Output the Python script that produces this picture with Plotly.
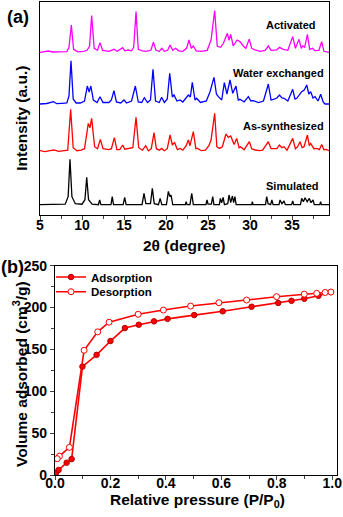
import plotly.graph_objects as go

# ---- (a) PXRD patterns: 2theta (deg) and intensity above each trace's own baseline (a.u.)
sim_tt = [5.0, 8.0, 8.35, 8.57, 8.8, 9.2, 10.0, 10.35, 10.56, 10.78, 11.2, 11.95, 12.1, 12.25,
          13.45, 13.6, 13.75, 14.9, 15.08, 15.25, 17.15, 17.38, 17.6, 18.15, 18.37, 18.6,
          19.1, 19.3, 19.5, 20.05, 20.28, 20.45, 20.6, 20.8, 22.3, 22.4, 22.5, 22.85, 23.06,
          23.25, 24.75, 24.88, 25.0, 25.4, 25.56, 25.7, 26.35, 26.47, 26.62, 26.8, 26.95,
          27.35, 27.5, 27.7, 27.9, 28.05, 28.2, 28.35, 30.2, 30.28, 30.36, 31.85, 31.98,
          32.15, 32.45, 32.6, 32.75, 33.45, 33.57, 33.8, 34.05, 34.2, 34.95, 35.08, 35.2,
          36.0, 36.15, 36.35, 36.55, 36.8, 37.06, 37.25, 37.5, 37.65, 38.3, 38.4, 38.5, 39.4]
sim_int = [0, 0.5, 8, 45.3, 8, 1, 0.5, 5, 27.3, 5, 0.5, 0, 4.7, 0,
           0, 8, 0, 0, 7.3, 0, 0, 11.3, 1, 1, 16.3, 1,
           0, 6.3, 0, 0, 13.3, 8, 9.7, 0, 0, 3, 0, 0, 11.3,
           0, 0, 4.7, 0.5, 0.5, 8, 0, 0, 6.3, 2, 7.3, 0,
           1, 9.7, 2, 8.7, 2, 8, 0, 0, 3, 0, 0, 8,
           1, 0, 4.7, 0, 0, 4.7, 1, 3.7, 0, 0, 3.7, 0,
           0, 6.3, 3, 7, 3, 6.3, 2, 4.7, 0, 0, 3, 0, 0]

as_tt = [5.0, 5.6, 6.2, 6.7, 7.2, 7.8, 8.3, 8.65, 8.95, 9.4, 9.9, 10.3, 10.75, 10.95, 11.15,
         11.5, 11.85, 12.18, 12.5, 13.2, 13.5, 13.85, 14.15, 14.5, 14.84, 15.1, 15.6, 16.05,
         16.43, 16.75, 17.2, 17.58, 17.9, 18.25, 18.57, 18.85, 19.2, 19.48, 19.8, 20.15,
         20.48, 20.75, 21.03, 21.35, 21.67, 22.0, 22.4, 22.66, 22.85, 23.25, 23.55, 23.77,
         24.2, 24.7, 25.1, 25.36, 25.79, 26.05, 26.35, 26.7, 27.14, 27.42, 27.7, 28.1,
         28.41, 28.7, 28.89, 29.3, 29.92, 30.2, 30.6, 31.1, 31.5, 32.18, 32.5, 32.86, 33.2,
         33.5, 33.8, 34.05, 34.4, 35.08, 35.4, 35.67, 35.95, 36.2, 36.43, 36.83, 37.05,
         37.22, 37.6, 37.94, 38.25, 38.53, 38.8, 39.05, 39.4]
as_int = [1, 0, 1, 1.7, 0.3, 0.7, 1.5, 42.3, 4, 1, 1.5, 3, 28.3, 24, 33.3,
          5, 3, 12.3, 3, 2, 3, 14, 2, 2, 6.7, 2.5, 3, 4,
          34.3, 4, 1.5, 6, 1, 3, 19, 3, 1.5, 3.3, 1, 3,
          16.7, 7, 9, 2, 3.3, 1.5, 6, 11.7, 6, 20, 3, 3.3,
          1, 1.5, 6, 11.7, 38.3, 5, 3.3, 5, 17.7, 14.3, 15.7, 7.3,
          13.3, 4, 5, 2, 10, 3, 1.7, 1, 1.5, 10, 3, 3.3, 3,
          6.7, 4, 5, 1.5, 13.3, 3, 5, 10, 4, 5, 16.7, 6,
          8.3, 3, 3.3, 2, 7.3, 2, 2.3, 1]

we_tt = [5.0, 5.8, 6.6, 7.0, 7.6, 8.2, 8.45, 8.69, 8.95, 9.3, 9.8, 10.3, 10.63, 10.85, 11.05,
         11.35, 11.8, 12.14, 12.5, 13.2, 13.5, 13.8, 14.1, 14.6, 15.0, 15.3, 15.9, 16.35,
         16.7, 17.1, 17.42, 17.8, 18.15, 18.45, 18.75, 19.2, 19.48, 19.8, 20.15, 20.44,
         20.75, 20.95, 21.3, 21.67, 22.0, 22.66, 22.9, 23.13, 23.45, 23.65, 24.1, 24.8,
         25.24, 25.71, 26.0, 26.23, 26.63, 26.94, 27.25, 27.62, 27.94, 28.33, 28.6, 28.8,
         29.3, 29.8, 30.1, 30.4, 31.0, 31.6, 32.18, 32.5, 32.78, 33.2, 33.5, 33.8, 34.05,
         34.5, 35.08, 35.35, 35.56, 35.9, 36.15, 36.45, 36.75, 37.0, 37.22, 37.5, 37.74,
         38.1, 38.41, 38.7, 38.93, 39.4]
we_int = [0, 0.5, 2.3, 0.3, 0.7, 1, 8, 43.3, 5, 1, 1, 3, 18, 12, 18,
          4, 1.5, 7.3, 1.5, 1.5, 4, 13.3, 2, 1, 4, 1, 3, 18,
          2, 1.5, 6.3, 1.5, 4, 34.7, 3, 1.5, 6.7, 1.5, 5, 30.7,
          7, 9, 3, 4, 2, 9, 7, 21.7, 4, 5.7, 1.5, 3,
          12.3, 26.7, 10, 7.3, 4, 21.3, 10, 24, 10.7, 18, 4, 4.7,
          2, 7.3, 3, 3.3, 1.5, 3, 20, 4, 4.7, 6, 9, 6, 5.7,
          3, 14.7, 5, 5.7, 10, 12.3, 14, 19, 10, 12.3, 6, 7.3,
          3, 9.7, 2, 0, 0]

act_tt = [5.0, 5.6, 6.0, 6.5, 7.2, 7.8, 8.2, 8.45, 8.73, 9.0, 9.5, 10.2, 10.6, 10.9, 11.15,
          11.45, 11.85, 12.14, 12.45, 13.2, 13.8, 14.2, 14.84, 15.1, 15.5, 15.9, 16.15, 16.43,
          16.7, 17.2, 17.6, 18.2, 18.5, 18.8, 19.2, 19.5, 19.8, 20.2, 20.48, 20.8, 21.15,
          21.5, 22.0, 22.45, 22.74, 23.0, 23.25, 23.6, 24.2, 24.9, 25.36, 25.79, 26.1, 26.5,
          26.83, 27.3, 27.5, 27.7, 28.0, 28.45, 28.8, 29.2, 29.5, 29.9, 30.2, 30.6, 31.2,
          31.8, 32.18, 32.5, 32.78, 33.2, 33.5, 33.97, 34.5, 35.08, 35.4, 35.83, 36.1, 36.27,
          36.5, 36.83, 37.1, 37.46, 37.7, 37.86, 38.2, 38.53, 38.8, 39.4]
act_int = [0, 0.7, 1.3, 0.3, 0.3, 0, 0.7, 5, 27.3, 3, 0.5, 1, 2, 6, 36.7,
           4, 2, 9.7, 2, 1, 3, 1, 4.7, 1.5, 2.3, 1.5, 5, 40.7,
           3, 1.5, 1, 2, 10, 2, 1, 4, 1, 2, 7.3, 2, 4,
           1.5, 1, 4, 12.3, 4, 6.3, 1.5, 1, 2, 12.3, 41.7, 6, 5,
           9, 19, 12, 18, 6.3, 12.3, 10.7, 6.3, 4, 13, 4, 2.3, 1,
           2, 6.3, 2, 2.3, 2.5, 5, 3, 2, 15.7, 4, 13, 4, 6.3,
           5, 18, 3, 4, 1.7, 1.7, 2, 10.7, 1, 0]

pattern_names = ["Simulated", "As-synthesized", "Water exchanged", "Activated"]
pattern_colors = ["black", "#FF0000", "#0000FF", "#FF00FF"]
pattern_offsets = [10.3, 63.3, 111, 162.7]

# ---- (b) N2 isotherm
ads_p = [0.004, 0.013, 0.042, 0.06, 0.099, 0.150, 0.200, 0.252, 0.302, 0.357, 0.406,
         0.502, 0.605, 0.709, 0.805, 0.853, 0.899, 0.950, 0.995]
ads_v = [2.8, 6, 14.7, 19, 129.5, 143.5, 160, 175.5, 179.5, 183.5, 186.5,
         191, 195.5, 201, 205.5, 208, 210.5, 214, 218.5]
des_p = [0.995, 0.974, 0.944, 0.899, 0.799, 0.691, 0.591, 0.489, 0.391, 0.300, 0.195,
         0.154, 0.105, 0.052, 0.016, 0.008]
des_v = [218.5, 218, 217, 216, 213, 209, 205.8, 201.8, 197, 192, 182.5,
         171, 149, 33, 22.5, 19.5]

W, H = 343, 517
FONT = "Arial, Liberation Sans, sans-serif"

fig = go.Figure()

xrd = [(sim_tt, sim_int), (as_tt, as_int), (we_tt, we_int), (act_tt, act_int)]
for (tt, inten), name, col, off in zip(xrd, pattern_names, pattern_colors, pattern_offsets):
    fig.add_trace(go.Scatter(x=tt, y=[v + off for v in inten], mode="lines",
                             line=dict(color=col, width=1.3), showlegend=False,
                             xaxis="x", yaxis="y"))

fig.add_trace(go.Scatter(x=ads_p, y=ads_v, mode="lines+markers", name="Adsorption",
                         line=dict(color="#FF0000", width=1.6),
                         marker=dict(symbol="circle", size=5.5, color="#FF0000",
                                     line=dict(color="#B00000", width=1)),
                         xaxis="x2", yaxis="y2", legend="legend"))
fig.add_trace(go.Scatter(x=des_p, y=des_v, mode="lines+markers", name="Desorption",
                         line=dict(color="#FF0000", width=1.6),
                         marker=dict(symbol="circle", size=6, color="white",
                                     line=dict(color="#FF0000", width=1)),
                         xaxis="x2", yaxis="y2", legend="legend2"))

axis_common = dict(showline=True, linecolor="black", linewidth=1.2, mirror=True,
                   showgrid=False, zeroline=False, automargin=False,
                   tickfont=dict(family=FONT, size=14, color="black", weight="bold"))
leg_common = dict(x=51 / W, xanchor="left", yanchor="middle",
                  bgcolor="rgba(0,0,0,0)", borderwidth=0,
                  font=dict(family=FONT, size=11.5, color="black", weight="bold"))

fig.update_layout(
    width=W, height=H,
    margin=dict(l=0, r=0, t=0, b=0, autoexpand=False),
    paper_bgcolor="white", plot_bgcolor="white",
    font=dict(family=FONT, color="black"),
    xaxis=dict(axis_common, domain=[40 / W, 329 / W], anchor="y",
               range=[5, 39.4], tickvals=[5, 10, 15, 20, 25, 30, 35],
               ticks="outside", ticklen=4, tickwidth=1.2, ticklabelstandoff=-7,
               minor=dict(dtick=2.5, tick0=5, ticks="outside", ticklen=2.5, tickwidth=1)),
    yaxis=dict(axis_common, domain=[1 - 215 / H, 1 - 1.5 / H], anchor="x",
               range=[0, 213.5], showticklabels=False, ticks=""),
    xaxis2=dict(axis_common, domain=[55 / W, 337 / W], anchor="y2",
                range=[0, 1.017], tickvals=[0, 0.2, 0.4, 0.6, 0.8, 1.0], tickformat=".1f",
                ticks="outside", ticklen=4, tickwidth=1.2, ticklabelstandoff=-9,
                minor=dict(dtick=0.1, tick0=0, ticks="outside", ticklen=2.5, tickwidth=1)),
    yaxis2=dict(axis_common, domain=[1 - 475 / H, 1 - 265.7 / H], anchor="x2",
                range=[0, 250], tickvals=[0, 50, 100, 150, 200, 250],
                ticks="outside", ticklen=4, tickwidth=1.2,
                minor=dict(dtick=25, tick0=0, ticks="outside", ticklen=2.5, tickwidth=1)),
    legend=dict(leg_common, y=1 - 277 / H),
    legend2=dict(leg_common, y=1 - 291.7 / H),
)

ann = []
# trace labels in (a)
for name, xx, yy in zip(pattern_names, [35.08, 33.97, 33.35, 34.84], [29.3, 89, 142.3, 190]):
    ann.append(dict(x=xx, y=yy, xref="x", yref="y", text="<b>%s</b>" % name,
                    showarrow=False, font=dict(family=FONT, size=11, color="black")))
# panel letters and axis titles
extra = [
    dict(x=17.5 / W, y=1 - 16.7 / H, text="<b>(a)</b>", font=dict(size=18)),
    dict(x=12 / W, y=1 - 266.7 / H, text="<b>(b)</b>", font=dict(size=18)),
    dict(x=184.5 / W, y=1 - 245 / H, text="<b>2θ (degree)</b>", font=dict(size=15.5)),
    dict(x=20.7 / W, y=1 - 118 / H, text="<b>Intensity (a.u.)</b>", textangle=-90,
         font=dict(size=15.5)),
    dict(x=197.5 / W, y=1 - 500 / H, text="<b>Relative pressure (P/P<sub>0</sub>)</b>",
         font=dict(size=15.5)),
    dict(x=20 / W, y=1 - 374 / H, text="<b>Volume adsorbed (cm<sup>3</sup>/g)</b>",
         textangle=-90, font=dict(size=15.5)),
]
for a in extra:
    a.update(xref="paper", yref="paper", showarrow=False, xanchor="center", yanchor="middle")
    a["font"] = dict(family=FONT, color="black", **a["font"])
    ann.append(a)
fig.update_layout(annotations=ann)

# drop the browser's default body margin so the figure sits at the page corner
fig.write_html("out.html", config={"displayModeBar": False},
               post_script="document.body.style.margin = '0';")
